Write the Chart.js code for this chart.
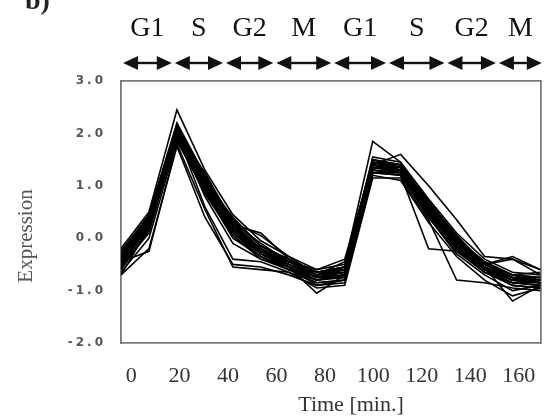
<!DOCTYPE html>
<html>
<head>
<meta charset="utf-8">
<script src="https://cdn.jsdelivr.net/npm/chart.js@4.4.0/dist/chart.umd.min.js"></script>
<style>
    html, body { margin: 0; padding: 0; background: #fff; }
    #grafico { display: block; filter: blur(0.5px); }
</style>
</head>
<body>
<canvas id="grafico" width="556" height="420"></canvas>
<script>
// Muestras (puntos de tiempo) y fases del ciclo celular
const muestras = [1, 2, 3, 4, 5, 6, 7, 8, 9, 10, 11, 12, 13, 14, 15, 16];
const fases = ['G1', 'S', 'G2', 'M', 'G1', 'S', 'G2', 'M'];
const limitesFase = [1.02, 2.87, 4.7, 6.5, 8.57, 10.53, 12.62, 14.46, 16.1];
const ticksTiempo = [0, 20, 40, 60, 80, 100, 120, 140, 160];
const ticksExpresion = [-2, -1, 0, 1, 2, 3];

// Perfiles de expresión (uno por gen)
const expr01 = [-0.40, 0.35, 2.10, 1.10, 0.25, -0.20, -0.45, -0.70, -0.65, 1.45, 1.35, 0.60, -0.05, -0.55, -0.80, -0.85];
const expr02 = [-0.50, 0.30, 2.00, 1.00, 0.15, -0.30, -0.55, -0.75, -0.70, 1.35, 1.30, 0.50, -0.15, -0.60, -0.75, -0.80];
const expr03 = [-0.30, 0.45, 2.20, 1.20, 0.35, -0.15, -0.40, -0.65, -0.55, 1.50, 1.40, 0.65, 0.00, -0.45, -0.70, -0.75];
const expr04 = [-0.60, 0.20, 1.90, 0.95, 0.05, -0.35, -0.60, -0.80, -0.75, 1.30, 1.20, 0.45, -0.20, -0.65, -0.85, -0.90];
const expr05 = [-0.20, 0.50, 2.45, 1.30, 0.45, -0.05, -0.35, -0.60, -0.50, 1.85, 1.45, 0.75, 0.10, -0.40, -0.65, -0.70];
const expr06 = [-0.70, -0.20, 1.75, 0.40, -0.50, -0.55, -0.70, -0.90, -0.85, 1.20, 1.10, 0.30, -0.35, -0.80, -1.10, -0.95];
const expr07 = [-0.45, 0.25, 2.00, 0.60, -0.40, -0.45, -0.65, -0.85, -0.80, 1.25, 1.25, 0.40, -0.30, -0.70, -1.00, -0.90];
const expr08 = [-0.35, 0.40, 2.05, 1.25, 0.30, 0.05, -0.35, -0.70, -0.45, 1.40, 1.60, 1.00, 0.35, -0.35, -0.40, -0.60];
const expr09 = [-0.55, 0.10, 1.95, 1.05, 0.20, -0.25, -0.50, -0.75, -0.60, 1.35, 1.30, 0.55, -0.10, -0.50, -0.75, -0.85];
const expr10 = [-0.65, 0.00, 1.85, 0.90, 0.10, -0.30, -0.55, -0.80, -0.70, 1.25, 1.20, -0.20, -0.25, -0.55, -1.20, -0.90];
const expr11 = [-0.25, 0.45, 2.15, 1.15, 0.30, -0.10, -0.45, -0.60, -0.40, 1.45, 1.35, 0.70, 0.05, -0.50, -0.70, -0.65];
const expr12 = [-0.50, 0.30, 2.00, 1.05, 0.20, -0.20, -0.50, -0.70, -0.65, 1.40, 1.25, 0.55, -0.15, -0.60, -0.80, -0.75];
const expr13 = [-0.40, 0.35, 2.05, 0.95, 0.10, -0.35, -0.55, -0.75, -0.75, 1.35, 1.30, 0.50, -0.05, -0.45, -0.70, -0.85];
const expr14 = [-0.45, -0.25, 1.80, 0.55, -0.55, -0.60, -0.65, -0.95, -0.90, 1.15, 1.15, 0.35, -0.80, -0.85, -0.95, -1.00];
const expr15 = [-0.55, 0.35, 2.10, 1.15, 0.25, -0.25, -0.45, -0.65, -0.60, 1.50, 1.35, 0.60, -0.10, -0.55, -0.80, -0.80];
const expr16 = [-0.35, 0.40, 2.00, 1.10, 0.40, -0.15, -0.40, -0.70, -0.60, 1.40, 1.30, 0.65, 0.00, -0.50, -0.35, -0.60];
const expr17 = [-0.60, 0.15, 1.95, 1.00, 0.15, -0.30, -0.55, -0.80, -0.70, 1.30, 1.25, 0.45, -0.20, -0.65, -0.85, -0.90];
const expr18 = [-0.50, 0.25, 2.10, 1.05, 0.20, -0.20, -0.50, -0.70, -0.60, 1.45, 1.30, 0.55, -0.10, -0.55, -0.75, -0.80];
const expr19 = [-0.40, 0.30, 2.00, 1.00, 0.15, -0.25, -0.55, -1.05, -0.70, 1.35, 1.35, 0.50, -0.15, -0.60, -0.80, -0.85];
const expr20 = [-0.30, 0.40, 2.05, 1.10, 0.30, -0.25, -0.45, -0.65, -0.55, 1.45, 1.40, 0.60, -0.05, -0.50, -0.70, -0.75];
const expr21 = [-0.70, 0.20, 1.90, 0.85, 0.05, -0.40, -0.60, -0.85, -0.80, 1.25, 1.20, 0.40, -0.25, -0.65, -0.90, -0.95];
const expr22 = [-0.45, 0.35, 2.05, 1.00, 0.20, -0.30, -0.50, -0.75, -0.65, 1.40, 1.30, 0.55, -0.10, -0.55, -0.75, -0.85];
const expr23 = [-0.55, 0.40, 2.15, 1.20, 0.30, -0.20, -0.45, -0.70, -0.55, 1.50, 1.40, 0.70, 0.00, -0.45, -0.75, -0.80];
const expr24 = [-0.35, 0.25, 1.95, 0.90, 0.00, -0.35, -0.60, -0.80, -0.70, 1.30, 1.25, 0.45, -0.20, -0.60, -0.85, -0.85];
const expr25 = [-0.60, 0.30, 2.05, 1.05, 0.25, 0.10, -0.40, -0.65, -0.55, 1.40, 1.35, 0.60, -0.05, -0.50, -0.40, -0.70];
const expr26 = [-0.45, 0.20, 2.00, 0.80, -0.10, -0.40, -0.55, -0.90, -0.80, 1.35, 1.25, 0.50, -0.15, -0.60, -0.90, -0.95];
const expr27 = [-0.40, 0.40, 2.10, 1.15, 0.35, -0.15, -0.45, -0.70, -0.60, 1.55, 1.45, 0.70, 0.05, -0.50, -0.75, -0.75];
const expr28 = [-0.50, 0.30, 2.00, 1.05, 0.20, -0.25, -0.50, -0.75, -0.65, 1.45, 1.30, 0.55, -0.10, -0.55, -0.80, -0.85];

const perfiles = [expr01, expr02, expr03, expr04, expr05, expr06, expr07, expr08, expr09, expr10, expr11, expr12, expr13, expr14,
    expr15, expr16, expr17, expr18, expr19, expr20, expr21, expr22, expr23, expr24, expr25, expr26, expr27, expr28];

const colorMarco = '#7a7a7a';

// Letras, flechas de fase y títulos de ejes
const anotaciones = {
    id: 'anotaciones',
    beforeDraw(chart) {
        // separación entre letras en las etiquetas del eje Y
        const esc = chart.scales.y;
        if (!esc._espaciado) {
            const original = esc.drawLabels;
            esc.drawLabels = function (area) {
                this.ctx.save();
                this.ctx.letterSpacing = '3px';
                original.call(this, area);
                this.ctx.restore();
            };
            esc._espaciado = true;
        }
    },
    afterDraw(chart) {
        const ctx = chart.ctx;
        const ex = chart.scales.x;
        ctx.save();

        ctx.fillStyle = '#222';
        ctx.font = 'bold 28px "Liberation Serif"';
        ctx.textAlign = 'left';
        ctx.textBaseline = 'alphabetic';
        ctx.fillText('b)', 25, 9);

        ctx.font = '28px "Liberation Serif"';
        ctx.textAlign = 'center';
        ctx.strokeStyle = '#111';
        ctx.fillStyle = '#111';
        fases.forEach((f, i) => {
            const x0 = ex.getPixelForValue(limitesFase[i]) + 1.5;
            const x1 = ex.getPixelForValue(limitesFase[i + 1]) - 1.5;
            ctx.fillText(f, (x0 + x1) / 2, 36);

            const y = 63, largo = 15, media = 7;
            ctx.lineWidth = 2.4;
            ctx.beginPath();
            ctx.moveTo(x0 + largo - 2, y);
            ctx.lineTo(x1 - largo + 2, y);
            ctx.stroke();
            ctx.beginPath();
            ctx.moveTo(x0, y);
            ctx.lineTo(x0 + largo, y - media);
            ctx.lineTo(x0 + largo, y + media);
            ctx.closePath();
            ctx.fill();
            ctx.beginPath();
            ctx.moveTo(x1, y);
            ctx.lineTo(x1 - largo, y - media);
            ctx.lineTo(x1 - largo, y + media);
            ctx.closePath();
            ctx.fill();
        });

        ctx.fillStyle = '#555';
        ctx.font = '21px "Liberation Serif"';
        ctx.textBaseline = 'middle';
        ctx.translate(26, 236);
        ctx.rotate(-Math.PI / 2);
        ctx.fillText('Expression', 0, 0);
        ctx.restore();

        ctx.save();
        ctx.fillStyle = '#333';
        ctx.font = '22px "Liberation Serif"';
        ctx.textAlign = 'center';
        ctx.textBaseline = 'middle';
        ctx.fillText('Time [min.]', 351, 405);
        ctx.restore();
    }
};

new Chart(document.getElementById('grafico').getContext('2d'), {
    type: 'line',
    data: {
        datasets: perfiles.map(valores => ({
            data: valores.map((v, i) => ({ x: muestras[i], y: v })),
            borderColor: '#000',
            borderWidth: 1.6,
            pointRadius: 0,
            tension: 0,
            fill: false,
            xAxisID: 'x',
            yAxisID: 'y'
        }))
    },
    options: {
        responsive: false,
        animation: false,
        events: [],
        layout: { padding: { top: 81, right: 11, bottom: 0, left: 0 } },
        plugins: { legend: { display: false }, tooltip: { enabled: false } },
        scales: {
            x: { type: 'linear', min: 1, max: 16, display: false },
            xt: {
                type: 'linear',
                position: 'bottom',
                min: -4.2,
                max: 169,
                afterBuildTicks: s => { s.ticks = ticksTiempo.map(v => ({ value: v })); },
                afterFit: s => { s.height = 77; },
                ticks: {
                    font: { family: 'Liberation Serif', size: 22 },
                    color: '#333',
                    padding: 20,
                    autoSkip: false,
                    maxRotation: 0
                },
                grid: { display: false, drawTicks: false },
                border: { display: true, color: colorMarco, width: 1.8 }
            },
            xTop: {
                type: 'linear',
                position: 'top',
                min: 0,
                max: 1,
                afterFit: s => { s.height = 0; },
                ticks: { display: false },
                grid: { display: false, drawTicks: false },
                border: { display: true, color: colorMarco, width: 1.8 }
            },
            y: {
                type: 'linear',
                position: 'left',
                min: -2,
                max: 3,
                afterBuildTicks: s => { s.ticks = ticksExpresion.map(v => ({ value: v })); },
                afterFit: s => { s.width = 121; },
                ticks: {
                    font: { family: 'DejaVu Sans', size: 12, weight: 'bold' },
                    color: '#555',
                    padding: 15,
                    callback: v => (v < 0 ? '-' : '') + Math.abs(v).toFixed(1)
                },
                grid: { display: false, drawTicks: false },
                border: { display: true, color: colorMarco, width: 1.8 }
            },
            yRight: {
                type: 'linear',
                position: 'right',
                min: 0,
                max: 1,
                afterFit: s => { s.width = 0; },
                ticks: { display: false },
                grid: { display: false, drawTicks: false },
                border: { display: true, color: colorMarco, width: 1.8 }
            }
        }
    },
    plugins: [anotaciones]
});
</script>
</body>
</html>
